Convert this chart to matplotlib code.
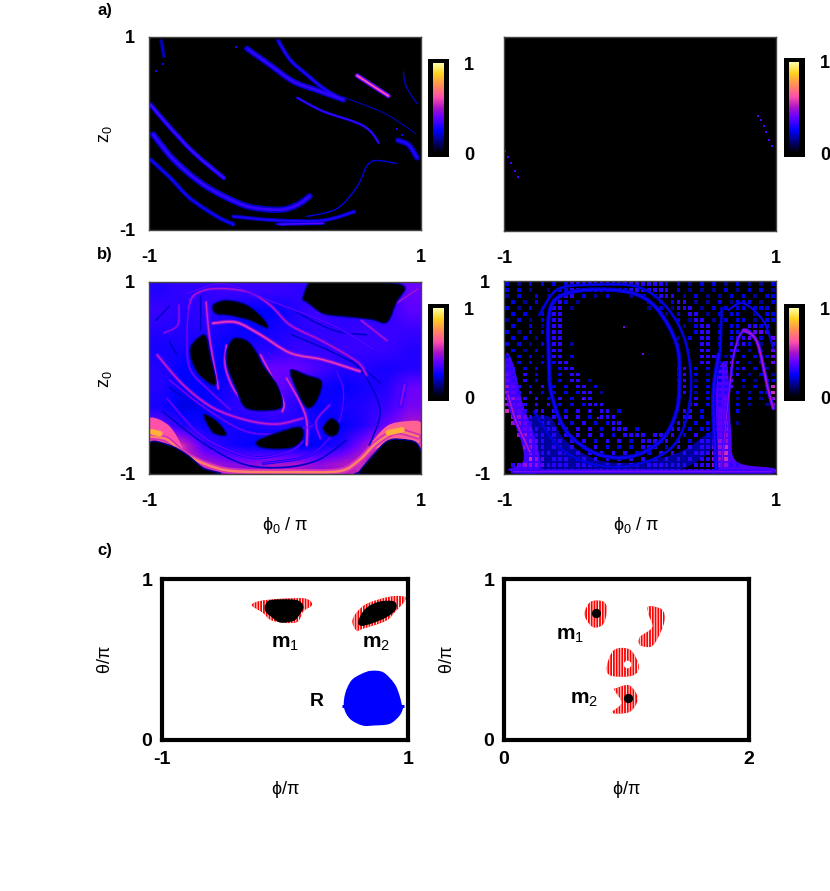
import numpy as np
import matplotlib
matplotlib.use('Agg')
import matplotlib.pyplot as plt
from matplotlib.colors import LinearSegmentedColormap
from matplotlib.path import Path
from matplotlib.patches import PathPatch

plt.rcParams['font.family'] = ['Liberation Sans', 'DejaVu Sans']
plt.rcParams['mathtext.fontset'] = 'custom'
plt.rcParams['mathtext.rm'] = 'Liberation Sans'
plt.rcParams['mathtext.it'] = 'Liberation Sans'
plt.rcParams['hatch.linewidth'] = 0.7

# colour scale
cmap_pos = [0, 0.10, 0.25, 0.40, 0.50, 0.62, 0.75, 0.88, 1]
cmap_colors = ['#000000', '#000060', '#0000ff', '#6a00ff', '#aa14c8',
               '#ff50aa', '#ff8c5a', '#ffd21e', '#ffffaa']

# panel a, left: ridges as (phi, z)
a_ridges = [
    ([-0.05, 0.04, 0.16, 0.28, 0.42], [0.96, 0.76, 0.61, 0.47, 0.35]),
    ([-0.28, -0.11, 0.06, 0.23, 0.43], [0.88, 0.71, 0.54, 0.45, 0.35]),
    ([0.53, 0.65, 0.76], [0.60, 0.49, 0.39]),
    ([0.09, 0.28, 0.53, 0.63, 0.69], [0.37, 0.23, 0.11, 0.02, -0.10]),
    ([0.83, 0.91, 0.97], [-0.07, -0.12, -0.25]),
    ([-0.99, -0.85, -0.67, -0.45], [0.30, 0.07, -0.20, -0.46]),
    ([-0.97, -0.82, -0.63, -0.45, -0.26, -0.04, 0.09, 0.18],
     [-0.01, -0.27, -0.50, -0.65, -0.76, -0.79, -0.74, -0.65]),
    ([-0.99, -0.85, -0.70, -0.50, -0.38], [-0.27, -0.45, -0.67, -0.86, -0.94]),
    ([-0.38, -0.06, 0.28, 0.51], [-0.86, -0.90, -0.90, -0.81]),
    ([-0.04, 0.28], [-0.94, -0.93]),
    ([0.16, 0.38, 0.53, 0.60, 0.67, 0.82], [-0.86, -0.78, -0.55, -0.34, -0.28, -0.31]),
    ([-0.91, -0.89], [0.96, 0.80]),
    ([0.87, 0.89, 0.97], [0.64, 0.49, 0.31]),
    ([0.44, 0.65, 0.77, 0.96], [0.37, 0.26, 0.18, 0.0]),
]
a_values = [0.3, 0.33, 0.62, 0.36, 0.3, 0.36, 0.33, 0.27, 0.3, 0.38, 0.25, 0.22, 0.22, 0.22]
a_dots_phi = [-0.36, -0.28, -0.95, -0.90, 0.82, 0.86, -0.38, -0.06]
a_dots_z = [0.90, 0.88, 0.65, 0.72, 0.05, -0.02, -0.95, -0.94]

# panel a, right: isolated cells
a2_phi = [-0.99, -0.97, -0.95, -0.92, -0.90, 0.87, 0.89, 0.91, 0.93, 0.95, 0.97]
a2_z = [-0.18, -0.24, -0.30, -0.38, -0.44, 0.19, 0.14, 0.08, 0.02, -0.06, -0.12]

# panel b, left: coarse level of the field, top row first
b_grid = [
    [.30, .32, .32, .33, .33, .33, .32, .30, .30, .30, .32, .40],
    [.33, .30, .32, .28, .25, .25, .30, .35, .30, .30, .32, .38],
    [.30, .30, .30, .28, .25, .28, .30, .32, .32, .33, .33, .33],
    [.28, .28, .28, .25, .30, .30, .33, .32, .33, .33, .33, .30],
    [.30, .25, .25, .25, .35, .40, .40, .35, .30, .30, .28, .30],
    [.30, .25, .25, .28, .35, .40, .35, .28, .25, .28, .30, .40],
    [.28, .22, .25, .30, .33, .35, .30, .25, .28, .30, .33, .42],
    [.40, .30, .26, .28, .28, .30, .30, .28, .25, .30, .40, .50],
    [.62, .55, .34, .28, .25, .22, .22, .25, .30, .45, .65, .60],
    [.50, .55, .50, .45, .45, .50, .50, .45, .50, .55, .50, .50],
]
b_band_phi = [-0.99, -0.87, -0.75, -0.58, -0.38, 0.04, 0.40, 0.55, 0.67, 0.82, 0.98]
b_band_z = [-0.61, -0.64, -0.78, -0.90, -0.97, -0.98, -0.97, -0.85, -0.68, -0.56, -0.61]
b_left_blob = ([-1, -0.85, -0.75, -0.85, -1], [-0.42, -0.50, -0.75, -0.68, -0.68])
b_right_blob = ([0.62, 0.75, 0.90, 1, 0.98, 0.85, 0.72], [-0.72, -0.50, -0.45, -0.47, -0.68, -0.66, -0.72])
b_ridges = [
    ([-0.71, -0.67, -0.53, -0.28, -0.11, 0.04, 0.28, 0.53, 0.60],
     [0.72, 0.86, 0.93, 0.90, 0.76, 0.55, 0.38, 0.17, 0.03]),
    ([-0.53, -0.36, -0.18, 0.04, 0.28, 0.55], [0.57, 0.58, 0.45, 0.26, 0.19, 0.07]),
    ([-0.58, -0.56, -0.53, -0.49], [0.79, 0.48, 0.20, -0.11]),
    ([-0.43, -0.44, -0.38, -0.28], [0.34, 0.13, -0.11, -0.28]),
    ([-0.18, -0.09, -0.01, -0.02], [0.24, 0.0, -0.25, -0.35]),
    ([0.01, 0.11, 0.16, 0.16], [0.0, -0.25, -0.45, -0.70]),
    ([-0.94, -0.75, -0.53, -0.28, -0.06, 0.13], [0.24, -0.07, -0.31, -0.44, -0.48, -0.42]),
    ([-0.70, -0.72, -0.70, -0.55, -0.40], [0.83, 0.48, 0.10, -0.14, -0.33]),
    ([-0.89, -0.79, -0.78], [0.47, 0.55, 0.76]),
    ([0.13, 0.04, -0.21, -0.45, -0.65, -0.87], [-0.66, -0.76, -0.83, -0.73, -0.56, -0.21]),
    ([0.33, 0.23, 0.26], [-0.28, -0.45, -0.63]),
    ([0.38, 0.43, 0.40, 0.28, 0.13, -0.16], [0.07, -0.14, -0.45, -0.70, -0.83, -0.89]),
    ([0.56, 0.75], [0.60, 0.39]),
    ([0.82, 0.98], [0.78, 0.93]),
    ([0.88, 0.85], [-0.07, -0.28]),
    ([-0.85, -0.60, -0.30, -0.05, 0.20], [-0.02, -0.30, -0.55, -0.58, -0.50]),
    ([-0.72, -0.45, -0.10, 0.35, 0.65], [0.88, 0.98, 0.80, 0.55, 0.30]),
]
b_values = [.50, .58, .54, .54, .56, .56, .52, .42, .46, .40, .46, .38, .50, .50, .44, .42, .40]
b_dark = [
    ([0.05, 0.30, 0.55, 0.70], [0.45, 0.30, 0.12, -0.05]),
    ([-0.85, -0.80], [0.38, 0.25]),
    ([-0.85, -0.75], [-0.10, -0.20]),
    ([0.45, 0.60, 0.70, 0.62], [0.25, 0.0, -0.35, -0.70]),
    ([-0.90, -0.60, -0.30, 0.0, 0.25, 0.45], [-0.35, -0.68, -0.90, -0.93, -0.85, -0.65]),
    ([-0.95, -0.85], [0.60, 0.75]),
    ([-0.62, -0.62], [0.85, 0.50]),
    ([0.0, 0.35, 0.60], [0.75, 0.50, 0.45]),
]
b_hot = [([-0.98, -0.92], [-0.56, -0.58]), ([0.76, 0.86], [-0.57, -0.54])]

# empty areas of panel b, left
b_holes = [
    ([-1, -0.85, -0.72, -0.60, -0.49, -1], [-0.68, -0.70, -0.80, -0.94, -1, -1]),
    ([0.55, 0.65, 0.75, 0.85, 0.98, 1, 0.55], [-0.97, -0.80, -0.66, -0.64, -0.70, -1, -1]),
    ([0.13, 0.18, 0.26, 0.70, 0.88, 0.82, 0.75, 0.63, 0.43, 0.28, 0.16],
     [0.83, 1, 1, 1, 0.95, 0.79, 0.58, 0.61, 0.64, 0.67, 0.79]),
    ([-0.38, -0.28, -0.21, -0.16, -0.06, -0.02, -0.06, -0.28, -0.36, -0.42, -0.43],
     [0.41, 0.39, 0.27, 0.13, -0.07, -0.25, -0.33, -0.32, -0.11, 0.10, 0.27]),
    ([-0.53, -0.43, -0.28, -0.16, -0.13, -0.26, -0.40, -0.51],
     [0.76, 0.81, 0.76, 0.62, 0.52, 0.60, 0.65, 0.67]),
    ([-0.69, -0.59, -0.55, -0.51, -0.63, -0.69], [0.34, 0.45, 0.24, -0.07, 0.03, 0.20]),
    ([0.04, 0.16, 0.27, 0.23, 0.16, 0.09], [0.08, 0.03, -0.04, -0.25, -0.31, -0.14]),
    ([-0.21, -0.06, 0.11, 0.13, 0.04, -0.16], [-0.66, -0.57, -0.51, -0.63, -0.73, -0.73]),
    ([0.28, 0.34, 0.40, 0.38, 0.32], [-0.52, -0.42, -0.49, -0.59, -0.60]),
    ([-0.60, -0.50, -0.43, -0.53], [-0.38, -0.45, -0.59, -0.57]),
]

# panel b, right: speckle read cell by cell, digit = value * 10, top row first
b2_cells = [
    "2.1.2.2.2.233333333333333332.2.1.2.2.1.2.1.1.2",
    "2.2.1..1.2233333332223333333.2.1.1.1.2.1.2.2.1",
    "1.2..2.1.233.2.1.2...1.2.2333.1.2.1.1.2.2.1.22",
    ".2.1.2..232.1...........2.1.233.1.1.2.1222.1.2",
    "2.1.2.1.33.1............1.2.1333.1.2.2.22.222.",
    ".2.2..2.33.................1.2.33.1.2.22..1.22",
    "1.2.1.2.33...................2.133.1.2.22.1.22",
    ".2..2.1.33....................1.233.1.22.3322.2",
    "2.1.2.2.33......................233.2.22.3443.2",
    ".2.2.1.233...................1.2.33.1.2334.2.43",
    "2.2.1.2.33.1.....................33.2.3332.1.3",
    ".2.1.2.333.......................33.1.33.1.1.4",
    "2.2.2.1.33.2.....................333.13.2.2.24",
    "3.2.2.2.233......................33.2343.1.2.4",
    "33.2.2.2.233.................33.2.2.23323.2.1.4",
    "43.3.2.2.2.33................33.2.1.2333.1.2.15",
    "43.3.2.2.2.33.1..............33.1.2.234.2.1.225",
    "543.2.3.2.2.33.2.............33.2.2.334.1.2.266",
    "543.3.2.2.2.233.1.............3.1.2.33.2.1.2266",
    "5543.3.2.3.2.33.................3.2.34.1.2.1.56",
    "5443.3.3.2.2.2333..............33.2.34.2.1..155",
    "6543.33.3.2.3.2.33.2..........33.2.244.2.......",
    ".5543.3.3.3.3.2.333...........33.2.244.........",
    ".5543.33.3.2.3.2.233.........33.2.2345.1.......",
    "..5443.33.3.3.3.2.333.2.....33.2.22345.........",
    "..55433.3.3.3.3.3.2.3333.3333.2.3.2345.........",
    "...5543.33.3.3.2.3.3.2.33333.3.2.33455.........",
    "...5543.33.3.3.3.2.2.2.333.2.3.3.33556.........",
    "....5433.33.3.3.3.3.3.2.2.3.3.3.333556.........",
    "....654.333.33.3.3.3.3.3.3.3.3.3.33556.........",
    ".3455543333.3333.3.3.33.3333333.33355533.......",
    ".444444444444444444444444444444444444444444444.",
]
b2_ridges = [
    ([-0.67, -0.67, -0.59, -0.37, -0.07, 0.12, 0.27, 0.29, 0.26, 0.15, -0.07, -0.32, -0.54, -0.65, -0.67],
     [0.13, 0.65, 0.84, 0.91, 0.88, 0.72, 0.34, -0.08, -0.39, -0.66, -0.82, -0.79, -0.56, -0.18, 0.13]),
    ([-0.74, -0.61, -0.37, -0.02, 0.20, 0.34, 0.37, 0.25, -0.05, -0.37, -0.61, -0.78],
     [0.65, 0.91, 0.96, 0.94, 0.72, 0.34, -0.21, -0.70, -0.91, -0.89, -0.70, -0.35]),
    ([0.58, 0.54, 0.56], [0.24, -0.21, -0.94]),
    ([0.60, 0.64, 0.69, 0.76, 0.83], [-0.91, -0.35, 0.24, 0.49, 0.44]),
    ([0.76, 0.86, 0.94, 0.98], [0.49, 0.37, -0.11, -0.32]),
    ([-0.97, -0.91, -0.81], [-0.18, -0.46, -0.77]),
    ([0.60, 0.59], [0.72, 0.27]),
    ([0.65, 0.76, 0.91, 0.98], [0.70, 0.77, 0.58, 0.30]),
    ([-0.93, 0.97], [-0.975, -0.975]),
]
b2_values = [.27, .25, .30, .46, .50, .50, .25, .28, .42]
b2_crescent = ([-0.90, -0.74, -0.45, -0.05, 0.30, 0.52, 0.54, 0.28, -0.05, -0.32, -0.55, -0.68],
               [-0.50, -0.95, -0.98, -0.98, -0.95, -0.75, -0.55, -0.78, -0.88, -0.85, -0.65, -0.40])
b2_left_strip = ([-0.985, -0.985, -0.88, -0.86, -0.97, -0.74, -0.77, -0.86, -0.93],
                 [0.24, -0.21, -0.63, -0.87, -0.96, -0.98, -0.63, -0.28, 0.13])
b2_right_strip = ([0.55, 0.56, 0.64, 0.67, 0.71, 0.98, 0.98, 0.55],
                  [-0.98, -0.04, 0.13, -0.56, -0.87, -0.94, -0.99, -0.99])
b2_dots_phi = [-0.12, 0.02, -0.37, -0.31, -0.42]
b2_dots_z = [0.52, 0.24, -0.35, -0.42, -0.22]

# panel c, left: phi, theta outlines
c1_m1_red = ([-0.27, -0.15, 0.15, 0.22, 0.15, 0.09, -0.10, -0.18],
             [0.84, 0.87, 0.88, 0.84, 0.80, 0.73, 0.74, 0.79])
c1_m1_black = ([-0.16, -0.11, 0.09, 0.15, 0.12, 0.07, -0.04, -0.12, -0.16],
               [0.84, 0.87, 0.87, 0.83, 0.78, 0.74, 0.73, 0.77, 0.80])
c1_m2_red = ([0.55, 0.65, 0.85, 0.97, 0.97, 0.90, 0.82, 0.63, 0.58],
             [0.75, 0.84, 0.89, 0.89, 0.86, 0.80, 0.74, 0.69, 0.68])
c1_m2_black = ([0.60, 0.66, 0.77, 0.89, 0.90, 0.82, 0.69, 0.61],
               [0.75, 0.82, 0.86, 0.86, 0.81, 0.76, 0.72, 0.71])
c1_r = ([0.70, 0.80, 0.89, 0.93, 0.95, 0.96, 0.93, 0.85, 0.72, 0.63, 0.53, 0.48, 0.49, 0.54, 0.62],
        [0.43, 0.42, 0.35, 0.28, 0.22, 0.20, 0.15, 0.10, 0.09, 0.09, 0.13, 0.20, 0.29, 0.37, 0.41])
c1_r_nub_phi = [0.46, 0.965]
c1_r_nub_theta = [0.21, 0.21]

# panel c, right
c2_m1 = ([0.66, 0.71, 0.81, 0.84, 0.81, 0.73, 0.67], [0.80, 0.86, 0.86, 0.81, 0.72, 0.70, 0.75])
c2_hook = ([1.18, 1.29, 1.31, 1.26, 1.20, 1.11, 1.11, 1.21, 1.18],
           [0.83, 0.81, 0.74, 0.64, 0.58, 0.59, 0.64, 0.70, 0.78])
c2_mid = ([0.90, 1.03, 1.10, 1.05, 0.87, 0.84], [0.56, 0.56, 0.46, 0.40, 0.40, 0.46])
c2_m2 = ([0.91, 1.02, 1.09, 1.07, 1.01, 0.88, 0.96, 0.90], [0.32, 0.34, 0.27, 0.21, 0.17, 0.17, 0.23, 0.31])
c2_dots_phi = [0.75, 1.01]
c2_dots_theta = [0.79, 0.26]
c2_hole_phi = [1.0]
c2_hole_theta = [0.475]

W, H = 830, 891
cm = LinearSegmentedColormap.from_list('pal', list(zip(cmap_pos, cmap_colors)))


def box(x0, x1, y0, y1):
    return fig.add_axes([x0 / W, 1 - y1 / H, (x1 - x0) / W, (y1 - y0) / H])


def curve(xs, ys, closed=False):
    p = np.column_stack([xs, ys]).astype(float)
    n = len(p)
    verts = [p[0]]
    for i in range(n if closed else n - 1):
        if closed:
            p0, p1, p2, p3 = p[(i - 1) % n], p[i], p[(i + 1) % n], p[(i + 2) % n]
        else:
            p0, p1, p2, p3 = p[max(i - 1, 0)], p[i], p[i + 1], p[min(i + 2, n - 1)]
        verts += [p1 + (p2 - p0) / 6, p2 - (p3 - p1) / 6, p2]
    codes = [Path.MOVETO] + [Path.CURVE4] * (len(verts) - 1)
    return Path(verts, codes)


def stroke(ax, xs, ys, color, lw, **kw):
    ax.add_patch(PathPatch(curve(xs, ys), facecolor='none', edgecolor=color, lw=lw,
                           capstyle='round', joinstyle='round', **kw))


def blob(ax, xs, ys, **kw):
    ax.add_patch(PathPatch(curve(xs, ys, closed=True), **kw))


def heat_axes(x0, x1, y0, y1, yticks=True):
    ax = box(x0, x1, y0, y1)
    ax.set_facecolor('black')
    ax.set_xlim(-1, 1)
    ax.set_ylim(-1, 1)
    ax.set_xticks([-1, 1], ['-1', '1'], fontsize=fs, fontweight='bold')
    if yticks:
        ax.set_yticks([-1, 1], ['-1', '1'], fontsize=fs, fontweight='bold')
    else:
        ax.set_yticks([])
    ax.tick_params(length=0, axis='x', pad=14)
    ax.tick_params(length=0, axis='y', pad=10)
    for s in ax.spines.values():
        s.set_color('#444444')
        s.set_linewidth(1)
    return ax


def colorbar(x0, y0, y1):
    back = box(x0, x0 + 21, y0, y1)
    back.set_facecolor('black')
    back.set_xticks([])
    back.set_yticks([])
    for s in back.spines.values():
        s.set_visible(False)
    ax = box(x0 + 5, x0 + 15, y0 + 4, y1 - 4)
    ax.imshow(np.linspace(1, 0, 256)[:, None], cmap=cm, vmin=0, vmax=1, aspect='auto',
              extent=[0, 1, 0, 1])
    ax.set_xticks([])
    ax.yaxis.tick_right()
    ax.set_yticks([0, 1], ['0', '1'], fontsize=fs, fontweight='bold')
    ax.tick_params(length=0, pad=15)
    for s in ax.spines.values():
        s.set_visible(False)


def draw_ridges(ax, ridges, values, widths, halo=0.6):
    for (xs, ys), v, w in zip(ridges, values, widths):
        stroke(ax, xs, ys, cm(v * halo), w * 1.9)
    for (xs, ys), v, w in zip(ridges, values, widths):
        stroke(ax, xs, ys, cm(v), w * 0.8)


def label(x, y, s, **kw):
    fig.text(x / W, 1 - y / H, s, ha=kw.pop('ha', 'center'), va='center', **kw)


fig = plt.figure(figsize=(W / 100, H / 100), dpi=100)
fs = 13

# a)
ax = heat_axes(149, 421, 37, 230)
draw_ridges(ax, a_ridges, a_values,
            [1.6, 2.2, 1.8, 1.0, 2.2, 1.8, 2.4, 1.7, 1.5, 1.3, 0.6, 1.5, 0.6, 0.45])
ax.scatter(a_dots_phi, a_dots_z, s=4, marker='s', color=cm(0.28), linewidths=0)
colorbar(428, 59, 157)

ax = heat_axes(504, 776, 37, 231, yticks=False)
ax.scatter(a2_phi, a2_z, s=3.5, marker='s', color=cm(0.36), linewidths=0)
colorbar(784, 58, 157)

# b)
ax = heat_axes(149, 421, 282, 474)
ax.imshow(b_grid, cmap=cm, vmin=0, vmax=1, extent=[-1, 1, -1, 1], aspect='auto',
          interpolation='bilinear')
blob(ax, b_left_blob[0], b_left_blob[1], facecolor=cm(0.62), lw=0)
blob(ax, b_right_blob[0], b_right_blob[1], facecolor=cm(0.66), lw=0)
stroke(ax, b_band_phi, b_band_z, cm(0.56), 4.5)
stroke(ax, b_band_phi, b_band_z, cm(0.72), 1.8)
for xs, ys in b_dark:
    stroke(ax, xs, ys, cm(0.2), 1.2)
draw_ridges(ax, b_ridges, b_values, [1.3, 1.5, 1.3, 1.3, 1.3, 1.3, 1.4, 1.1, 1.2, 1.2, 1.1, 1.1, 1.2, 1.2, 2.2, 1.0, 1.0],
            halo=0.75)
for xs, ys in b_hot:
    stroke(ax, xs, ys, cm(0.82), 4)
for xs, ys in b_holes:
    blob(ax, xs, ys, facecolor='black', edgecolor=cm(0.15), lw=1.0)
colorbar(428, 304, 401)

ax = heat_axes(504, 776, 281, 474)
blob(ax, b2_crescent[0], b2_crescent[1], facecolor=cm(0.16), lw=0)
blob(ax, b2_left_strip[0], b2_left_strip[1], facecolor=cm(0.34), lw=0)
blob(ax, b2_right_strip[0], b2_right_strip[1], facecolor=cm(0.36), lw=0)
vals = np.array([[int(c) / 10 if c != '.' else 0 for c in row.ljust(46, '.')[:46]] for row in b2_cells])
rows, cols = np.nonzero(vals)
ax.scatter(-1 + (cols + 0.5) * 2 / 46, 1 - (rows + 0.5) * 2 / 32, s=7, marker='s',
           c=0.8 * vals[rows, cols] + 0.07, cmap=cm, vmin=0, vmax=1, linewidths=0)
draw_ridges(ax, b2_ridges, b2_values, [1.6, 1.1, 1.8, 1.0, 1.4, 1.6, 1.2, 0.9, 1.6], halo=0.7)
ax.scatter(b2_dots_phi, b2_dots_z, s=4, marker='s', color=cm(0.42), linewidths=0)
colorbar(784, 304, 401)

# c)
ax = box(162, 408, 579, 740)
ax.set_xlim(-1, 1)
ax.set_ylim(0, 1)
for xs, ys in (c1_m1_red, c1_m2_red):
    blob(ax, xs, ys, facecolor='red', edgecolor='white', hatch='||||||', lw=0)
for xs, ys in (c1_m1_black, c1_m2_black):
    blob(ax, xs, ys, facecolor='black', lw=0)
blob(ax, c1_r[0], c1_r[1], facecolor='#0000ff', lw=0)
ax.plot(c1_r_nub_phi, c1_r_nub_theta, color='#0000ff', lw=2.2, solid_capstyle='butt')
ax.text(0, 0.60, 'm$_1$', fontsize=15, ha='center', va='center', fontweight='bold')
ax.text(0.74, 0.60, 'm$_2$', fontsize=15, ha='center', va='center', fontweight='bold')
ax.text(0.26, 0.24, 'R', fontsize=14, ha='center', va='center', fontweight='bold')
ax.set_xticks([-1, 1], ['-1', '1'], fontsize=fs + 1, fontweight='bold')
ax.set_yticks([0, 1], ['0', '1'], fontsize=fs + 1, fontweight='bold')
ax.tick_params(length=0, axis='x', pad=8)
ax.tick_params(length=0, axis='y', pad=7)
for s in ax.spines.values():
    s.set_linewidth(3)

ax = box(504, 749, 579, 740)
ax.set_xlim(0, 2)
ax.set_ylim(0, 1)
for xs, ys in (c2_m1, c2_hook, c2_mid, c2_m2):
    blob(ax, xs, ys, facecolor='red', edgecolor='white', hatch='||||||', lw=0)
ax.scatter(c2_dots_phi, c2_dots_theta, s=45, color='black', linewidths=0, zorder=3)
ax.scatter(c2_hole_phi, c2_hole_theta, s=30, color='white', linewidths=0, zorder=3)
ax.text(0.54, 0.65, 'm$_1$', fontsize=15, ha='center', va='center', fontweight='bold')
ax.text(0.65, 0.25, 'm$_2$', fontsize=15, ha='center', va='center', fontweight='bold')
ax.set_xticks([0, 2], ['0', '2'], fontsize=fs + 1, fontweight='bold')
ax.set_yticks([0, 1], ['0', '1'], fontsize=fs + 1, fontweight='bold')
ax.tick_params(length=0, axis='x', pad=8)
ax.tick_params(length=0, axis='y', pad=7)
for s in ax.spines.values():
    s.set_linewidth(3)

# labels
label(97, 10, 'a)', ha='left', fontsize=12, fontweight='bold')
label(97, 255, 'b)', ha='left', fontsize=12, fontweight='bold')
label(97, 551, 'c)', ha='left', fontsize=12, fontweight='bold')
label(105, 134, 'z$_0$', rotation=90, fontsize=13)
label(105, 379, 'z$_0$', rotation=90, fontsize=13)
label(285, 526, r'$\phi_0$ / $\pi$', fontsize=13)
label(636, 526, r'$\phi_0$ / $\pi$', fontsize=13)
label(105, 660, r'$\theta/\pi$', rotation=90, fontsize=13)
label(447, 660, r'$\theta/\pi$', rotation=90, fontsize=13)
label(285, 790, r'$\phi/\pi$', fontsize=13)
label(626, 790, r'$\phi/\pi$', fontsize=13)

fig.savefig('out.png', dpi=100)
